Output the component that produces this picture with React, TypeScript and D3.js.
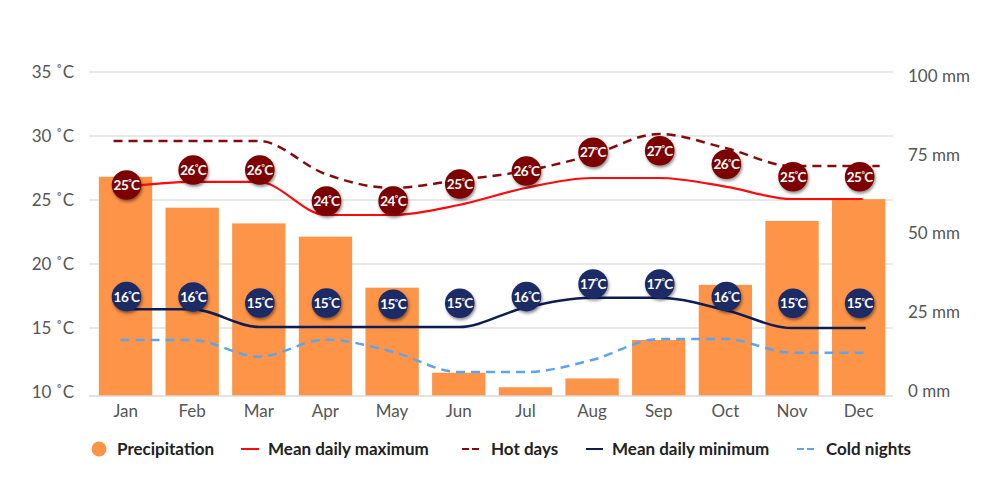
import React from "react";
import * as d3 from "d3";

const months = ["Jan","Feb","Mar","Apr","May","Jun","Jul","Aug","Sep","Oct","Nov","Dec"];
const precipitation = [68.0, 58.2, 53.2, 49.0, 32.8, 5.8, 1.2, 4.0, 16.2, 33.7, 54.0, 60.9];
const meanMax = [26.02, 26.41, 26.41, 23.83, 23.83, 24.61, 25.94, 26.72, 26.72, 26.05, 25.08, 25.08];
const hotDays = [29.61, 29.61, 29.61, 27.03, 25.94, 26.56, 27.27, 28.52, 30.16, 29.06, 27.66, 27.66];
const meanMin = [16.46, 16.46, 15.08, 15.08, 15.08, 15.08, 16.6, 17.37, 17.37, 16.41, 15.0, 15.0];
const coldNights = [14.06, 14.06, 12.76, 14.1, 13.15, 11.56, 11.56, 12.5, 14.14, 14.14, 13.07, 13.07];
const maxLabels = [25, 26, 26, 24, 24, 25, 26, 27, 27, 26, 25, 25];
const maxLabelPos = [26.17, 27.34, 27.34, 24.92, 24.92, 26.25, 27.27, 28.73, 28.85, 27.79, 26.82, 26.82];
const minLabels = [16, 16, 15, 15, 15, 15, 16, 17, 17, 16, 15, 15];
const minLabelPos = [17.45, 17.42, 16.95, 16.95, 16.85, 16.93, 17.45, 18.44, 18.44, 17.45, 16.93, 16.93];
const tempTicks = [10, 15, 20, 25, 30, 35];
const precipTicks = [0, 25, 50, 75, 100];

const FONT = "Lato, 'Open Sans', sans-serif";
const C_BAR = "#fd9447";
const C_MAX = "#ff0a0a";
const C_HOT = "#860a0a";
const C_MIN = "#0f1d55";
const C_COLD = "#5ea3ee";
const C_MAXB = "#7c0000";
const C_MINB = "#1b2966";

export default function App() {
  const W = 1000, H = 504;
  const plotL = 92.2, plotR = 892, plotB = 396;
  const x = d3.scaleBand<string>().domain(months).range([plotL, plotR]).padding(0);
  const bw = x.bandwidth();
  const cx = (i: number) => (x(months[i]) as number) + bw / 2;
  const yT = d3.scaleLinear().domain([10, 35]).range([392, 72]);
  const yP = d3.scaleLinear().domain([0, 100]).range([391, 76]);

  const mkLine = (vals: number[], padL: number, padR: number) => {
    const pts: [number, number][] = vals.map((v, i) => [cx(i), yT(v)]);
    const all: [number, number][] = [
      [cx(0) - padL, yT(vals[0])],
      ...pts,
      [cx(vals.length - 1) + padR, yT(vals[vals.length - 1])],
    ];
    return d3.line().curve(d3.curveMonotoneX)(all) || "";
  };

  const bubble = (i: number, pos: number, label: number, fill: string, key: string) => (
    <g key={key} transform={`translate(${cx(i) + 1},${yT(pos)})`}>
      <circle r={14.8} fill={fill} filter="url(#shadow)" />
      <text
        textAnchor="middle"
        dy="0.36em"
        fill="#fff"
        fontFamily={FONT}
        fontWeight={700}
        fontSize={13.5}
        letterSpacing={-0.5}
      >
        {label}
        <tspan fontSize={8} dy={-4.5}>°</tspan>
        <tspan dy={4.5}>C</tspan>
      </text>
    </g>
  );

  const legendY = 449;
  return (
    <svg width={W} height={H} style={{ display: "block", position: "absolute", left: 0, top: 0 }}>
      <defs>
        <filter id="shadow" x="-50%" y="-50%" width="200%" height="200%">
          <feDropShadow dx={1} dy={2} stdDeviation={1.8} floodColor="#000" floodOpacity={0.45} />
        </filter>
      </defs>
      <rect width={W} height={H} fill="#fff" />
      {tempTicks.filter((t) => t > 10).map((t) => (
        <line key={t} x1={89} x2={893} y1={yT(t)} y2={yT(t)} stroke="#e1e1e1" strokeWidth={1.5} />
      ))}
      {tempTicks.map((t) => (
        <text key={t} x={74} y={yT(t)} dy="0.35em" textAnchor="end" fontFamily={FONT} fontSize={17} fill="#555">
          {t} ˚C
        </text>
      ))}
      {precipTicks.map((t) => (
        <text key={t} x={908} y={yP(t)} dy="0.35em" textAnchor="start" fontFamily={FONT} fontSize={17} fill="#555">
          {t} mm
        </text>
      ))}
      {precipitation.map((v, i) => (
        <rect
          key={months[i]}
          x={cx(i) - bw * 0.4}
          width={bw * 0.8}
          y={yP(v)}
          height={plotB - yP(v)}
          fill={C_BAR}
        />
      ))}
      <line x1={89} x2={893} y1={plotB} y2={plotB} stroke="#d8d8d8" strokeWidth={1.5} />
      {months.map((m, i) => (
        <text key={m} x={cx(i)} y={411} dy="0.35em" textAnchor="middle" fontFamily={FONT} fontSize={17} fill="#555">
          {m}
        </text>
      ))}
      <path d={mkLine(coldNights, 5, 11)} fill="none" stroke={C_COLD} strokeWidth={2.5} strokeDasharray="9 6" />
      <path d={mkLine(meanMin, 0, 7)} fill="none" stroke={C_MIN} strokeWidth={2.5} />
      <path d={mkLine(hotDays, 12, 21)} fill="none" stroke={C_HOT} strokeWidth={2.5} strokeDasharray="9 6" />
      <path d={mkLine(meanMax, 0, 4)} fill="none" stroke={C_MAX} strokeWidth={2.2} />
      {minLabels.map((l, i) => bubble(i, minLabelPos[i], l, C_MINB, "mn" + i))}
      {maxLabels.map((l, i) => bubble(i, maxLabelPos[i], l, C_MAXB, "mx" + i))}
      <g fontFamily={FONT} fontSize={17} fontWeight={700} fill="#222">
        <circle cx={99} cy={legendY} r={7.5} fill={C_BAR} />
        <text x={117} y={legendY} dy="0.35em">Precipitation</text>
        <line x1={241} x2={259} y1={legendY} y2={legendY} stroke={C_MAX} strokeWidth={2} />
        <text x={268} y={legendY} dy="0.35em">Mean daily maximum</text>
        <line x1={462} x2={479} y1={legendY} y2={legendY} stroke={C_HOT} strokeWidth={2} strokeDasharray="7 3" />
        <text x={491} y={legendY} dy="0.35em">Hot days</text>
        <line x1={586} x2={603} y1={legendY} y2={legendY} stroke={C_MIN} strokeWidth={2} />
        <text x={612} y={legendY} dy="0.35em">Mean daily minimum</text>
        <line x1={797} x2={814} y1={legendY} y2={legendY} stroke={C_COLD} strokeWidth={2} strokeDasharray="7 3" />
        <text x={826} y={legendY} dy="0.35em">Cold nights</text>
      </g>
    </svg>
  );
}
